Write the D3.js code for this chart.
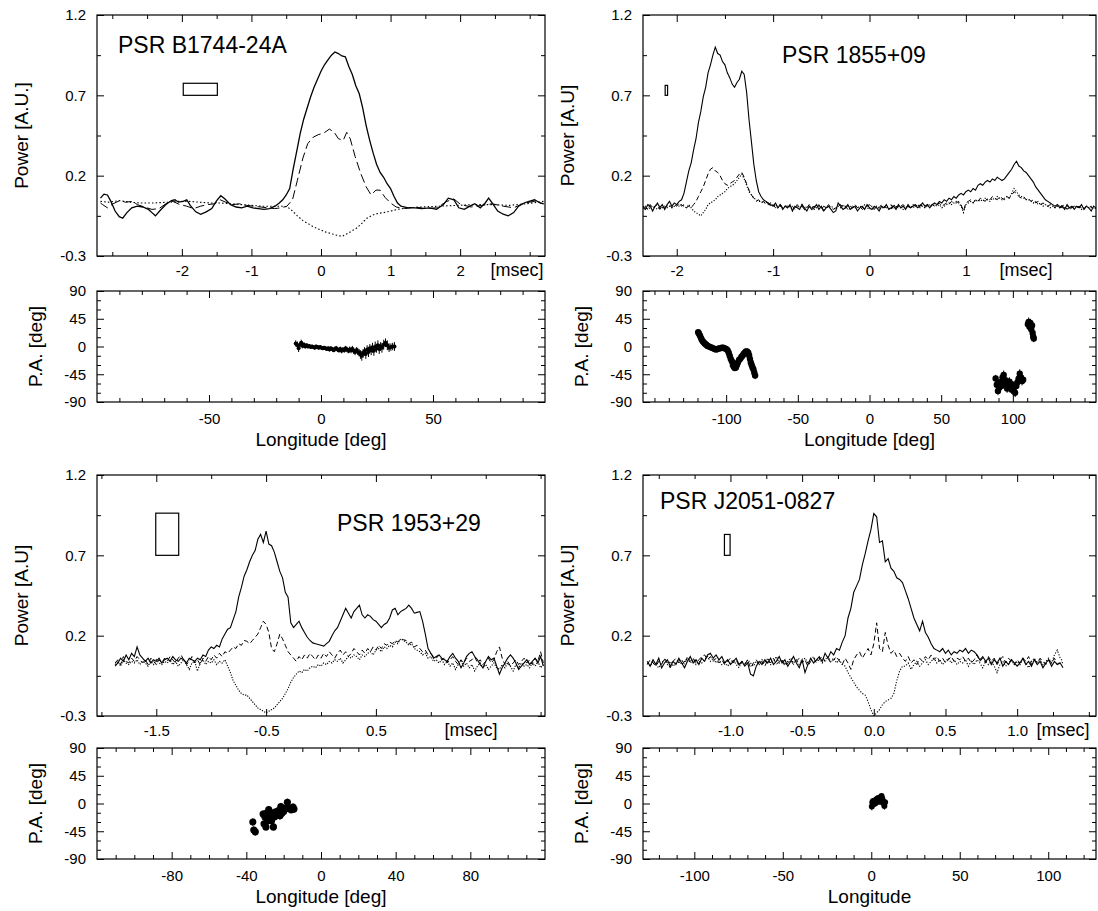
<!DOCTYPE html>
<html>
<head>
<meta charset="utf-8">
<script src="https://cdn.jsdelivr.net/npm/d3@7"></script>
<style>
  body { margin: 0; background: #fff; }
  svg text { font-family: "Liberation Sans", Arial, Helvetica, sans-serif; fill: #000; }
</style>
</head>
<body>
<div id="chart"></div>
<script>
// ---------------- data ----------------
// power axis ticks (shared)
var powerMajor = [-0.3, 0.2, 0.7, 1.2];
var powerMinor = [-0.05, 0.45, 0.95];
var paMajor = [-90, -45, 0, 45, 90];
var paMinor = [-75, -60, -30, -15, 15, 30, 60, 75];

// PSR B1744-24A  [msec, power]
var b1744I = [[-3.17,0.06],[-3.12,0.085],[-3.07,0.08],[-3.02,0.04],[-2.96,-0.02],[-2.90,-0.055],[-2.85,-0.065],[-2.79,-0.03],[-2.72,0.0],[-2.64,0.01],[-2.56,0.005],[-2.48,-0.01],[-2.43,-0.03],[-2.38,-0.05],[-2.31,-0.015],[-2.23,0.02],[-2.15,0.045],[-2.10,0.05],[-2.05,0.035],[-1.98,0.04],[-1.93,0.05],[-1.88,0.015],[-1.80,-0.025],[-1.73,-0.04],[-1.65,-0.025],[-1.57,-0.005],[-1.50,0.045],[-1.44,0.075],[-1.38,0.055],[-1.30,0.02],[-1.22,0.005],[-1.14,0.0],[-1.06,0.01],[-0.98,0.0],[-0.90,-0.005],[-0.82,-0.01],[-0.74,-0.005],[-0.66,0.01],[-0.60,0.03],[-0.55,0.05],[-0.50,0.08],[-0.45,0.12],[-0.40,0.24],[-0.35,0.35],[-0.30,0.46],[-0.25,0.55],[-0.20,0.62],[-0.15,0.69],[-0.10,0.75],[-0.05,0.80],[0.00,0.85],[0.05,0.89],[0.10,0.92],[0.15,0.95],[0.20,0.97],[0.25,0.96],[0.30,0.945],[0.35,0.94],[0.40,0.88],[0.45,0.83],[0.50,0.76],[0.55,0.71],[0.60,0.62],[0.65,0.51],[0.70,0.42],[0.75,0.34],[0.80,0.27],[0.85,0.22],[0.90,0.19],[0.95,0.15],[1.00,0.12],[1.05,0.07],[1.10,0.03],[1.15,0.01],[1.25,0.0],[1.35,0.0],[1.45,-0.005],[1.56,0.0],[1.66,-0.01],[1.76,0.02],[1.83,0.06],[1.91,0.05],[1.98,0.0],[2.06,-0.01],[2.14,0.01],[2.21,0.025],[2.29,0.0],[2.36,0.03],[2.41,0.06],[2.46,0.03],[2.54,-0.02],[2.62,-0.04],[2.69,-0.05],[2.77,-0.03],[2.84,0.01],[2.92,0.03],[2.99,0.04],[3.07,0.05],[3.15,0.03],[3.20,0.025]];
var b1744L = [[-3.17,0.03],[-3.14,0.02],[-3.07,0.0],[-2.99,0.025],[-2.89,0.045],[-2.81,0.035],[-2.71,0.04],[-2.64,0.02],[-2.54,0.005],[-2.43,-0.01],[-2.33,-0.005],[-2.23,0.025],[-2.13,0.04],[-2.03,0.02],[-1.93,0.01],[-1.83,-0.005],[-1.73,0.01],[-1.63,0.02],[-1.53,0.025],[-1.45,0.05],[-1.37,0.035],[-1.27,0.02],[-1.17,0.025],[-1.07,0.015],[-0.97,0.01],[-0.87,0.005],[-0.77,0.0],[-0.67,-0.005],[-0.57,0.0],[-0.49,0.01],[-0.41,0.05],[-0.34,0.17],[-0.26,0.31],[-0.19,0.40],[-0.11,0.44],[-0.04,0.455],[0.04,0.465],[0.12,0.49],[0.19,0.47],[0.25,0.43],[0.32,0.42],[0.37,0.47],[0.42,0.43],[0.49,0.32],[0.57,0.215],[0.65,0.13],[0.72,0.08],[0.79,0.11],[0.85,0.11],[0.92,0.065],[1.00,0.03],[1.08,0.005],[1.20,-0.005],[1.35,0.005],[1.50,-0.005],[1.66,0.0],[1.81,0.04],[1.91,0.055],[2.01,0.02],[2.16,0.005],[2.31,0.015],[2.46,0.025],[2.62,0.01],[2.77,0.0],[2.92,0.03],[3.07,0.04],[3.20,0.025]];
var b1744V = [[-3.17,0.04],[-3.05,0.035],[-2.9,0.045],[-2.75,0.035],[-2.6,0.03],[-2.4,0.03],[-2.2,0.035],[-2.05,0.04],[-1.9,0.04],[-1.75,0.035],[-1.6,0.03],[-1.45,0.03],[-1.3,0.025],[-1.15,0.02],[-1.0,0.015],[-0.85,0.01],[-0.7,0.01],[-0.55,0.01],[-0.48,0.005],[-0.41,-0.02],[-0.34,-0.05],[-0.26,-0.08],[-0.18,-0.10],[-0.1,-0.12],[-0.02,-0.135],[0.06,-0.15],[0.14,-0.16],[0.22,-0.17],[0.3,-0.178],[0.36,-0.165],[0.42,-0.15],[0.5,-0.13],[0.58,-0.10],[0.66,-0.065],[0.74,-0.045],[0.82,-0.035],[0.9,-0.03],[1.0,-0.02],[1.1,-0.01],[1.25,0.0],[1.45,0.005],[1.7,0.01],[1.95,0.015],[2.2,0.02],[2.45,0.02],[2.7,0.015],[2.95,0.025],[3.2,0.04]];
// [longitude, P.A., error]
var b1744PA = [[-11.3,5,5],[-10.5,2,6],[-10.0,-3,6],[-9.4,3,5],[-8.8,6,5],[-8.2,1,4],[-7.6,3,4],[-7.0,0,3],[-6.4,2,3],[-5.8,0,3],[-5.2,1,3],[-4.6,-1,3],[-4.0,0,3],[-3.4,-1,3],[-2.8,-2,3],[-2.2,0,3],[-1.6,-1,3],[-1.0,-2,3],[-0.4,-1,3],[0.2,-2,3],[0.8,-3,3],[1.4,-2,3],[2.0,-3,3],[2.6,-4,3],[3.2,-3,3],[3.8,-5,3],[4.4,-3,3],[5.0,-4,3],[5.6,-6,3],[6.2,-4,4],[6.8,-3,4],[7.4,-5,4],[8.0,-6,4],[8.6,-4,4],[9.2,-7,4],[9.8,-5,4],[10.4,-6,4],[11.0,-3,4],[11.6,-5,4],[12.2,-7,4],[12.8,-5,5],[13.4,-6,5],[14.0,-4,5],[14.6,-7,5],[15.2,-9,5],[15.8,-6,5],[16.4,-8,6],[17.0,-10,6],[17.6,-13,7],[18.2,-15,8],[18.8,-11,7],[19.4,-8,7],[20.0,-12,8],[20.6,-5,7],[21.2,-9,8],[21.8,-3,7],[22.4,-6,8],[23.0,-2,8],[23.6,-7,8],[24.2,0,8],[24.8,-3,7],[25.4,2,8],[26.0,-4,8],[26.6,0,7],[27.2,-2,8],[28.0,3,8],[28.8,6,7],[29.6,2,8],[30.4,-2,7],[31.2,-1,6],[32.0,0,6],[32.8,0,7]];
var b1744Box = [-1.98, -1.49, 0.70, 0.775];

// PSR 1855+09  values on an even msec grid [start, step]
var j1855Grid = [-2.35, 0.025];
var j1855I = [
  0.00,-0.01,0.02,0.01,-0.02,0.01,0.03,0.00,0.02,-0.01,
  0.02,0.04,0.01,0.03,0.02,0.04,0.05,0.09,0.16,0.23,
  0.28,0.36,0.43,0.53,0.60,0.69,0.75,0.84,0.89,0.95,
  1.00,0.96,0.95,0.91,0.89,0.84,0.81,0.77,0.75,0.78,
  0.80,0.85,0.83,0.72,0.55,0.41,0.27,0.17,0.10,0.07,
  0.05,0.04,0.03,0.02,0.01,0.03,0.00,0.02,-0.01,0.01,
  0.00,0.02,-0.02,0.01,0.00,-0.01,0.02,0.00,-0.02,0.01,
  -0.01,0.00,0.02,-0.01,0.01,-0.02,0.00,0.01,-0.01,-0.03,
  -0.02,0.03,0.01,-0.01,0.00,0.02,-0.01,0.00,0.01,-0.02,
  0.00,0.01,-0.01,0.02,0.00,-0.01,0.01,0.00,-0.02,0.01,
  0.00,0.02,-0.01,0.00,0.01,-0.01,0.02,0.00,0.01,-0.01,
  0.02,0.00,0.01,0.02,0.00,0.01,0.03,0.01,0.02,0.00,
  0.02,0.03,0.02,0.04,0.03,0.05,0.04,0.06,0.05,0.07,
  0.06,0.08,0.09,0.08,0.10,0.11,0.10,0.12,0.11,0.14,
  0.15,0.14,0.16,0.17,0.16,0.18,0.17,0.19,0.18,0.17,
  0.18,0.20,0.22,0.24,0.27,0.29,0.26,0.25,0.23,0.22,
  0.20,0.18,0.16,0.13,0.11,0.09,0.07,0.05,0.04,0.03,
  0.02,0.01,0.02,0.00,0.01,-0.01,0.02,0.00,0.01,-0.01,
  0.01,0.00,0.02,-0.01,0.01,0.00,-0.02,0.01,0.00];
var j1855L = [
  0.01,0.00,-0.01,0.02,0.00,0.01,0.02,-0.01,0.01,0.00,
  0.01,0.02,0.00,0.02,0.01,0.03,0.01,0.02,0.00,0.01,
  0.00,0.02,0.04,0.07,0.10,0.13,0.17,0.21,0.24,0.25,
  0.23,0.22,0.20,0.17,0.15,0.14,0.15,0.16,0.17,0.19,
  0.21,0.22,0.19,0.15,0.11,0.08,0.06,0.04,0.05,0.03,
  0.04,0.02,0.03,0.01,0.02,0.00,0.01,0.02,0.00,0.01,
  0.01,0.00,0.01,-0.01,0.02,0.00,0.01,-0.01,0.00,0.02,
  0.00,0.01,0.00,0.02,-0.01,0.01,0.00,0.02,0.00,-0.01,
  0.00,0.01,0.02,0.00,0.01,-0.01,0.01,0.00,0.02,0.00,
  0.01,-0.01,0.00,0.01,0.02,0.00,-0.01,0.01,0.00,0.02,
  0.01,0.00,0.01,0.02,-0.01,0.01,0.00,0.01,0.02,0.00,
  0.01,0.00,0.02,0.01,0.00,0.02,0.01,0.00,0.02,0.01,
  0.02,0.01,0.02,0.03,0.01,0.02,0.03,0.02,0.04,0.03,
  0.03,0.04,0.02,-0.02,0.03,0.04,0.05,0.03,0.05,0.04,
  0.06,0.05,0.04,0.06,0.05,0.07,0.06,0.05,0.07,0.06,
  0.05,0.07,0.06,0.08,0.10,0.09,0.07,0.06,0.07,0.05,
  0.06,0.04,0.05,0.03,0.04,0.02,0.03,0.02,0.01,0.02,
  0.01,0.00,0.02,0.01,0.00,0.01,-0.01,0.01,0.00,0.01,
  0.00,0.01,0.00,-0.01,0.01,0.00,0.01,-0.01,0.00];
var j1855V = [
  0.00,0.01,-0.01,0.00,0.01,0.00,-0.01,0.01,0.00,0.01,
  0.00,0.01,0.00,0.01,0.02,0.01,0.02,0.01,0.00,0.02,
  0.00,-0.02,-0.03,-0.04,-0.05,-0.03,-0.01,0.02,0.03,0.04,
  0.05,0.07,0.08,0.09,0.10,0.12,0.13,0.14,0.15,0.17,
  0.19,0.21,0.18,0.14,0.10,0.08,0.06,0.05,0.04,0.04,
  0.03,0.04,0.02,0.03,0.01,0.02,0.00,0.01,0.00,0.01,
  0.00,0.01,-0.01,0.00,0.01,0.00,0.02,-0.01,0.01,0.00,
  0.01,-0.01,0.00,0.01,0.00,-0.02,0.01,0.00,0.01,0.00,
  -0.01,0.01,0.00,0.02,0.00,0.01,-0.01,0.01,0.00,0.00,
  0.01,0.00,0.02,0.00,-0.01,0.01,0.00,0.01,-0.01,0.00,
  0.00,0.01,0.00,-0.01,0.02,0.00,0.01,0.00,-0.01,0.01,
  0.00,0.01,0.00,0.01,0.02,0.00,0.01,0.00,0.01,0.02,
  0.01,0.02,0.01,0.02,0.00,0.01,0.02,0.03,0.02,0.03,
  0.04,0.03,0.01,-0.03,0.02,0.03,0.04,0.03,0.05,0.04,
  0.05,0.04,0.06,0.05,0.04,0.06,0.05,0.07,0.06,0.05,
  0.06,0.07,0.06,0.09,0.12,0.10,0.08,0.07,0.06,0.05,
  0.05,0.04,0.03,0.04,0.02,0.03,0.01,0.02,0.01,0.00,
  0.01,0.00,0.01,0.00,0.02,0.00,0.01,-0.01,0.00,0.01,
  0.00,0.01,-0.01,0.00,0.01,0.00,0.00,0.01,-0.01];
var j1855PA = [[-119.5,23,3],[-119,21,3],[-118.3,18,3],[-117.6,14,3],[-117,11,3],[-116.2,8,3],[-115.4,6,3],[-114.6,4,3],[-113.8,3,3],[-113,1,3],[-112,0,3],[-111,-1,3],[-110,-2,3],[-109,-3,3],[-108,-4,3],[-107,-5,3],[-106,-4,3],[-105,-3,3],[-104,-3,3],[-103,-2,3],[-102,-2,3],[-101,-3,3],[-100,-4,3],[-99,-6,3],[-98.2,-10,3],[-97.5,-15,4],[-96.8,-20,4],[-96,-24,4],[-95.3,-30,4],[-94.6,-33,4],[-94,-35,4],[-93.2,-34,4],[-92.5,-30,4],[-91.8,-26,4],[-91,-22,4],[-90.2,-20,4],[-89.4,-17,4],[-88.6,-15,4],[-87.8,-12,4],[-87,-10,4],[-86.2,-8,4],[-85.4,-8,4],[-84.6,-10,4],[-84,-14,4],[-83.4,-20,5],[-82.8,-26,5],[-82.2,-30,5],[-81.6,-34,5],[-81,-37,5],[-80.4,-42,5],[-79.8,-47,6],
  [88,-52,6],[88.8,-62,7],[89.6,-72,7],[90.4,-66,6],[91.2,-58,6],[92,-64,7],[92.8,-50,6],[93.6,-46,7],[94.4,-60,6],[95.2,-55,7],[96,-68,7],[96.8,-60,6],[97.6,-57,7],[98.4,-64,6],[99.2,-70,7],[100,-62,6],[100.8,-66,7],[101.6,-75,7],[102.4,-64,6],[103.2,-58,6],[104,-52,6],[104.8,-44,7],[105.6,-50,6],[106.4,-56,7],[107.2,-54,7],
  [110.5,36,6],[111,40,7],[111.6,32,6],[112.2,38,7],[112.8,28,6],[113.4,34,7],[113.8,22,6],[114.2,16,6],[114.6,13,6]];
var j1855Box = [-2.12, -2.095, 0.70, 0.762];

// PSR 1953+29
var b1953Grid = [-1.875, 0.025];
var b1953I = [
  0.01,0.03,0.06,0.04,0.08,0.05,0.09,0.07,0.13,0.08,
  0.06,0.04,0.06,0.03,0.05,0.04,0.06,0.03,0.05,0.06,
  0.04,0.07,0.05,0.04,0.06,0.05,0.03,0.06,0.05,0.04,
  0.06,0.05,0.08,0.07,0.11,0.13,0.12,0.14,0.13,0.18,
  0.21,0.24,0.25,0.30,0.35,0.44,0.50,0.57,0.61,0.66,
  0.70,0.73,0.80,0.83,0.78,0.85,0.77,0.76,0.72,0.66,
  0.60,0.56,0.47,0.44,0.28,0.25,0.27,0.29,0.25,0.22,
  0.19,0.17,0.155,0.15,0.145,0.14,0.135,0.15,0.165,0.20,
  0.23,0.25,0.29,0.33,0.37,0.34,0.31,0.35,0.37,0.39,
  0.33,0.31,0.33,0.32,0.30,0.29,0.27,0.25,0.27,0.28,
  0.31,0.36,0.37,0.33,0.35,0.36,0.37,0.39,0.37,0.34,
  0.345,0.35,0.29,0.21,0.12,0.09,0.06,0.07,0.08,0.06,
  0.05,0.04,0.07,0.09,0.06,0.04,0.00,0.03,0.07,0.09,
  0.10,0.07,0.05,0.02,0.00,0.04,0.07,0.05,0.06,0.01,
  -0.04,0.00,0.03,0.06,0.08,0.06,0.03,-0.01,0.01,0.03,
  0.05,0.02,0.04,0.06,0.03,0.07,0.01];
var b1953L = [
  0.03,0.05,0.02,0.07,0.04,0.03,0.06,0.04,0.07,0.05,
  0.03,0.05,0.02,0.06,0.04,0.02,0.05,0.03,0.06,0.04,
  0.07,0.05,0.03,0.06,0.08,0.05,0.02,0.04,0.07,0.03,
  0.05,0.02,0.06,0.04,0.07,0.05,0.08,0.06,0.09,0.07,
  0.10,0.09,0.11,0.13,0.12,0.15,0.14,0.17,0.165,0.15,
  0.17,0.19,0.21,0.25,0.29,0.27,0.22,0.12,0.10,0.15,
  0.21,0.18,0.14,0.10,0.08,0.06,0.04,0.07,0.05,0.08,
  0.06,0.09,0.07,0.05,0.08,0.06,0.09,0.07,0.10,0.08,
  0.06,0.09,0.11,0.08,0.10,0.07,0.09,0.12,0.10,0.08,
  0.11,0.09,0.12,0.10,0.13,0.11,0.14,0.12,0.15,0.14,
  0.16,0.15,0.17,0.16,0.18,0.175,0.17,0.15,0.16,0.13,
  0.14,0.12,0.10,0.11,0.08,0.09,0.07,0.06,0.08,0.05,
  0.06,0.03,0.05,0.07,0.04,0.02,0.05,0.03,0.06,0.04,
  0.05,0.07,0.03,0.05,0.02,0.04,0.06,0.03,0.05,0.10,
  0.13,0.06,0.02,0.04,0.01,0.03,0.05,0.02,0.04,0.06,
  0.03,0.05,0.02,0.06,0.04,0.10,0.03];
var b1953V = [
  0.02,0.04,0.01,0.05,0.03,0.02,0.04,0.03,0.05,0.02,
  0.04,0.03,0.01,0.04,0.02,0.05,0.03,0.02,0.04,0.03,
  0.05,0.02,0.04,0.01,0.03,0.05,0.02,-0.01,0.03,0.04,
  -0.02,0.03,0.05,0.02,0.04,0.03,0.05,0.02,0.04,0.03,
  0.05,0.01,-0.03,-0.08,-0.11,-0.14,-0.16,-0.17,-0.17,-0.19,
  -0.21,-0.23,-0.25,-0.26,-0.27,-0.28,-0.27,-0.26,-0.25,-0.23,
  -0.21,-0.19,-0.16,-0.13,-0.09,-0.06,-0.04,-0.02,-0.03,-0.01,
  -0.02,0.00,0.01,0.00,0.02,0.01,0.03,0.02,0.04,0.03,
  0.05,0.04,0.06,0.03,0.05,0.07,0.06,0.08,0.07,0.05,
  0.08,0.07,0.09,0.10,0.08,0.11,0.12,0.10,0.13,0.12,
  0.14,0.13,0.16,0.15,0.18,0.17,0.16,0.14,0.15,0.12,
  0.11,0.10,0.08,0.09,0.06,0.07,0.04,0.05,0.03,0.05,
  0.02,0.04,0.01,0.03,-0.01,0.02,0.04,0.01,0.03,0.00,
  0.02,-0.02,0.01,0.03,0.00,0.02,-0.01,0.01,0.03,0.00,
  -0.01,0.02,0.00,0.03,0.01,-0.02,0.02,0.00,0.03,0.01,
  0.02,0.00,0.03,0.01,0.04,0.00,0.02];
var b1953PA = [[-36.5,-30,6],[-36,-43,6],[-35.2,-46,6],[-31,-17,6],[-30.5,-33,6],[-30,-22,6],[-29.5,-38,6],[-29,-15,6],[-28.5,-28,6],[-28,-10,6],[-27.5,-24,6],[-27,-18,6],[-26.5,-28,6],[-26,-16,6],[-25.5,-38,6],[-25,-22,6],[-24.5,-14,6],[-24,-20,6],[-23,-12,6],[-22,-20,6],[-21.5,-5,6],[-21,-16,6],[-20,-13,6],[-19,-8,6],[-18,2,6],[-17,-8,6],[-16,-10,6],[-15,-6,6],[-14.5,-9,6]];
var b1953Box = [-1.505, -1.296, 0.70, 0.9625];

// PSR J2051-0827
var j2051Grid = [-1.58, 0.02];
var j2051I = [
  0.04,0.01,0.05,0.02,0.06,0.00,0.03,0.05,0.01,0.04,
  0.02,0.06,0.03,0.00,0.04,0.07,0.03,0.05,0.02,0.06,
  0.04,0.08,0.09,0.06,0.08,0.05,0.07,0.03,0.05,0.02,
  0.04,0.06,0.02,0.04,0.01,0.03,-0.04,-0.05,0.01,0.04,
  0.02,0.05,0.03,0.06,0.02,0.04,0.07,0.03,0.05,0.01,
  0.04,0.07,0.03,0.00,0.05,-0.03,0.02,0.06,0.03,0.05,
  0.07,0.04,0.09,0.06,0.10,0.08,0.12,0.11,0.16,0.20,
  0.31,0.37,0.47,0.51,0.55,0.64,0.71,0.79,0.86,0.96,
  0.94,0.78,0.79,0.66,0.68,0.62,0.60,0.56,0.55,0.53,
  0.48,0.43,0.37,0.31,0.27,0.23,0.29,0.22,0.19,0.15,
  0.12,0.11,0.10,0.12,0.09,0.11,0.08,0.10,0.09,0.11,
  0.10,0.12,0.09,0.11,0.10,0.08,0.05,0.07,0.04,0.06,
  0.02,0.05,0.03,0.06,0.01,0.04,0.02,0.05,0.03,0.01,
  0.03,0.06,0.02,0.04,0.01,0.05,0.02,0.04,0.00,0.03,
  0.05,0.01,0.04,0.02,0.03,0.00];
var j2051L = [
  0.02,0.05,0.03,0.01,0.04,0.02,0.06,0.03,0.00,0.04,
  0.06,0.03,0.05,0.02,0.07,0.04,0.06,0.03,0.05,0.07,
  0.08,0.05,0.07,0.04,0.06,0.03,0.05,0.02,0.04,0.06,
  0.03,0.05,0.01,0.04,0.02,0.05,0.00,0.03,0.05,0.02,
  0.04,0.01,0.05,0.03,0.06,0.02,0.04,0.05,0.01,0.03,
  0.05,0.02,0.04,0.06,0.03,0.05,0.01,0.04,0.06,0.03,
  0.05,0.07,0.04,0.06,0.03,0.05,0.07,0.04,0.02,0.06,
  0.03,-0.01,0.05,0.08,0.10,0.06,0.09,0.12,0.08,0.15,
  0.28,0.12,0.10,0.22,0.14,0.09,0.11,0.07,0.09,0.06,
  0.04,0.07,0.03,0.05,0.02,0.06,0.04,0.07,0.05,0.08,
  0.05,0.07,0.04,0.06,0.03,0.05,0.07,0.04,0.06,0.05,
  0.07,0.04,0.06,0.03,0.05,0.08,0.04,0.06,0.03,0.07,
  0.04,0.06,0.02,0.05,0.07,0.03,0.06,0.04,0.02,0.05,
  0.03,0.06,0.04,0.07,0.02,0.05,0.03,0.06,0.04,0.02,
  0.05,0.03,0.06,0.02,0.04,0.03];
var j2051V = [
  0.03,0.01,0.04,0.02,0.00,0.03,0.05,0.02,0.04,0.01,
  0.03,0.05,0.02,0.04,0.06,0.03,0.05,0.02,0.04,0.03,
  0.05,0.07,0.04,0.06,0.03,0.05,0.02,0.04,0.01,0.03,
  0.05,0.02,0.00,0.04,0.02,0.05,0.03,0.01,0.04,0.02,
  0.05,0.03,0.06,0.02,0.04,0.07,0.03,0.05,0.02,0.04,
  0.06,0.03,0.05,0.02,0.04,0.06,0.03,0.05,0.07,0.04,
  0.06,0.03,0.05,0.07,0.04,0.06,0.03,0.05,0.02,0.01,
  -0.03,-0.06,-0.09,-0.12,-0.14,-0.16,-0.17,-0.21,-0.26,-0.30,
  -0.28,-0.26,-0.23,-0.21,-0.20,-0.19,-0.16,-0.08,-0.02,0.01,
  0.01,0.03,-0.01,0.02,0.04,0.01,0.03,0.05,0.02,0.04,
  0.06,0.03,0.05,0.02,0.04,0.06,0.03,0.05,0.02,0.04,
  0.03,0.05,0.01,0.04,0.02,0.05,0.03,0.00,0.04,0.02,
  0.04,0.01,-0.03,0.02,0.04,0.01,0.03,0.05,0.02,0.04,
  0.02,0.05,0.03,0.00,0.04,0.06,0.03,0.05,0.02,0.04,
  0.06,0.03,0.08,0.11,0.06,0.04];
var j2051PA = [[0.3,-5,6],[0.6,2,5],[1.0,4,5],[1.4,-1,5],[1.8,3,5],[2.2,0,5],[2.6,6,5],[3.0,2,5],[3.4,8,5],[3.8,4,5],[4.2,9,5],[4.6,6,5],[5.0,3,5],[5.4,10,5],[5.8,12,5],[6.2,8,5],[6.6,4,5],[7.0,0,6],[7.4,-4,6],[7.8,2,5]];
var j2051Box = [-1.042, -1.0025, 0.70, 0.83];

// ---------------- layout ----------------
var width = 1098, height = 911;
var cols = [[97, 545], [643, 1096]];
// power top, power bottom, P.A. top, P.A. bottom
var rows = [[15, 256, 291, 402], [475, 716, 748, 859]];

function onGrid(grid, vals) {
  return vals.map(function(v, i) { return [grid[0] + i * grid[1], v]; });
}
function without(all, some) {
  return all.filter(function(d) { return some.indexOf(d) < 0; });
}

var panels = [
  {title: "PSR B1744-24A", titleAt: [118, 53], col: 0, row: 0,
   msec: [-3.22, 3.22], lon: [-100, 100],
   msecMajor: [-2, -1, 0, 1, 2], msecMinor: [-3, -2.5, -1.5, -0.5, 0.5, 1.5, 2.5, 3], msecFmt: String, unitX: 517,
   lonMajor: [-50, 0, 50], lonMinor: without(d3.range(-90, 91, 10), [-50, 0, 50]),
   yTitle: "Power [A.U.]", xTitle: "Longitude [deg]",
   I: b1744I, L: b1744L, V: b1744V, pa: b1744PA, box: b1744Box,
   r: 2, lw: 1.3, dash: "9,4", dot: "1.5,2.2"},
  {title: "PSR 1855+09", titleAt: [782, 63], col: 1, row: 0,
   msec: [-2.35, 2.35], lon: [-158, 158],
   msecMajor: [-2, -1, 0, 1], msecMinor: [-1.5, -0.5, 0.5, 1.5, 2], msecFmt: String, unitX: 1026,
   lonMajor: [-100, -50, 0, 50, 100], lonMinor: without(d3.range(-150, 151, 10), [-100, -50, 0, 50, 100]),
   yTitle: "Power [A.U]", xTitle: "Longitude [deg]",
   I: onGrid(j1855Grid, j1855I), L: onGrid(j1855Grid, j1855L), V: onGrid(j1855Grid, j1855V), pa: j1855PA, box: j1855Box,
   r: 3.2, lw: 1.1, dash: "5,3", dot: "1.2,1.6"},
  {title: "PSR 1953+29", titleAt: [337, 531], col: 0, row: 1,
   msec: [-2.04, 2.04], lon: [-120, 120],
   msecMajor: [-1.5, -0.5, 0.5], msecMinor: [-2, -1, 0, 1, 1.5, 2], msecFmt: String, unitX: 471,
   lonMajor: [-80, -40, 0, 40, 80], lonMinor: without(d3.range(-110, 111, 10), [-80, -40, 0, 40, 80]),
   yTitle: "Power [A.U]", xTitle: "Longitude [deg]",
   I: onGrid(b1953Grid, b1953I), L: onGrid(b1953Grid, b1953L), V: onGrid(b1953Grid, b1953V), pa: b1953PA, box: b1953Box,
   r: 3.6, lw: 1.1, dash: "5,3", dot: "1.2,1.4"},
  {title: "PSR J2051-0827", titleAt: [660, 509], col: 1, row: 1,
   msec: [-1.61, 1.55], lon: [-129, 127],
   msecMajor: [-1, -0.5, 0, 0.5, 1], msecMinor: [-1.5, -1.25, -0.75, -0.25, 0.25, 0.75, 1.25, 1.5], msecFmt: function(d) { return d.toFixed(1); }, unitX: 1063,
   lonMajor: [-100, -50, 0, 50, 100], lonMinor: without(d3.range(-120, 121, 10), [-100, -50, 0, 50, 100]),
   yTitle: "Power [A.U]", xTitle: "Longitude",
   I: onGrid(j2051Grid, j2051I), L: onGrid(j2051Grid, j2051L), V: onGrid(j2051Grid, j2051V), pa: j2051PA, box: j2051Box,
   r: 3, lw: 1.1, dash: "5,3", dot: "1.2,1.6"}
];

var svg = d3.select("#chart")
  .append("svg")
    .attr("width", width)
    .attr("height", height);
svg.append("rect").attr("width", width).attr("height", height).attr("fill", "#fff");

// framed box with inward ticks on all four sides
function frame(g, x, y, xMaj, xMin, yMaj, yMin, xFmt, yFmt, xPad) {
  var xr = x.range(), yr = y.range();
  var top = yr[1], bottom = yr[0], left = xr[0], right = xr[1];
  var parts = [
    [d3.axisBottom(x).tickValues(xMaj).tickSize(-7).tickPadding(xPad).tickFormat(xFmt), 0, bottom],
    [d3.axisBottom(x).tickValues(xMin).tickSize(-4).tickFormat(""), 0, bottom],
    [d3.axisTop(x).tickValues(xMaj).tickSize(-7).tickFormat(""), 0, top],
    [d3.axisTop(x).tickValues(xMin).tickSize(-4).tickFormat(""), 0, top],
    [d3.axisLeft(y).tickValues(yMaj).tickSize(-7).tickPadding(11).tickFormat(yFmt), left, 0],
    [d3.axisLeft(y).tickValues(yMin).tickSize(-4).tickFormat(""), left, 0],
    [d3.axisRight(y).tickValues(yMaj).tickSize(-7).tickFormat(""), right, 0],
    [d3.axisRight(y).tickValues(yMin).tickSize(-4).tickFormat(""), right, 0]
  ];
  parts.forEach(function(p) {
    var a = g.append("g")
      .attr("transform", "translate(" + p[1] + "," + p[2] + ")")
      .call(p[0]);
    a.select(".domain").remove();
    a.selectAll(".tick line").attr("stroke", "#000").attr("stroke-width", 1);
    a.selectAll("text").attr("font-size", 15).attr("font-family", null).attr("fill", "#000");
  });
  g.append("rect")
    .attr("x", left).attr("y", top)
    .attr("width", right - left).attr("height", bottom - top)
    .attr("fill", "none").attr("stroke", "#000").attr("stroke-width", 1.2);
}

function yTitle(g, text, cx, cy) {
  g.append("text")
    .attr("transform", "translate(" + (cx + 6.5) + "," + cy + ") rotate(-90)")
    .attr("text-anchor", "middle")
    .attr("font-size", 19)
    .text(text);
}

panels.forEach(function(p, k) {
  var c = cols[p.col], r = rows[p.row];
  var g = svg.append("g");

  var x = d3.scaleLinear().domain(p.msec).range(c);
  var lon = d3.scaleLinear().domain(p.lon).range(c);
  var y = d3.scaleLinear().domain([-0.3, 1.2]).range([r[1], r[0]]);
  var ya = d3.scaleLinear().domain([-90, 90]).range([r[3], r[2]]);

  svg.append("clipPath").attr("id", "cp" + k)
    .append("rect").attr("x", c[0]).attr("y", r[0]).attr("width", c[1] - c[0]).attr("height", r[1] - r[0]);
  svg.append("clipPath").attr("id", "ca" + k)
    .append("rect").attr("x", c[0]).attr("y", r[2]).attr("width", c[1] - c[0]).attr("height", r[3] - r[2]);

  // power profiles
  var line = d3.line()
    .x(function(d) { return x(d[0]); })
    .y(function(d) { return y(d[1]); });
  var pg = g.append("g").attr("clip-path", "url(#cp" + k + ")");
  pg.append("path").datum(p.V)
    .attr("fill", "none").attr("stroke", "#000").attr("stroke-width", 1.1)
    .attr("stroke-dasharray", p.dot).attr("d", line);
  pg.append("path").datum(p.L)
    .attr("fill", "none").attr("stroke", "#000").attr("stroke-width", 1)
    .attr("stroke-dasharray", p.dash).attr("d", line);
  pg.append("path").datum(p.I)
    .attr("fill", "none").attr("stroke", "#000").attr("stroke-width", p.lw).attr("d", line);

  pg.append("rect")
    .attr("x", x(p.box[0])).attr("y", y(p.box[3]))
    .attr("width", x(p.box[1]) - x(p.box[0])).attr("height", y(p.box[2]) - y(p.box[3]))
    .attr("fill", "none").attr("stroke", "#000").attr("stroke-width", 1.2);

  frame(g, x, y, p.msecMajor, p.msecMinor, powerMajor, powerMinor, p.msecFmt, String, 9.3);

  g.append("text")
    .attr("x", p.unitX).attr("y", r[1] + 20)
    .attr("text-anchor", "middle").attr("font-size", 18)
    .text("[msec]");
  g.append("text")
    .attr("x", p.titleAt[0]).attr("y", p.titleAt[1])
    .attr("font-size", 23)
    .text(p.title);
  yTitle(g, p.yTitle, c[0] - 76, (r[0] + r[1]) / 2);

  // position angle
  var ag = g.append("g").attr("clip-path", "url(#ca" + k + ")");
  ag.selectAll("line.err").data(p.pa).enter()
    .append("line")
      .attr("class", "err")
      .attr("x1", function(d) { return lon(d[0]); })
      .attr("x2", function(d) { return lon(d[0]); })
      .attr("y1", function(d) { return ya(d[1] - d[2]); })
      .attr("y2", function(d) { return ya(d[1] + d[2]); })
      .attr("stroke", "#000").attr("stroke-width", 1);
  ag.selectAll("circle").data(p.pa).enter()
    .append("circle")
      .attr("cx", function(d) { return lon(d[0]); })
      .attr("cy", function(d) { return ya(d[1]); })
      .attr("r", p.r)
      .attr("fill", "#000");

  frame(g, lon, ya, p.lonMajor, p.lonMinor, paMajor, paMinor, String, String, 11.3);

  g.append("text")
    .attr("x", (c[0] + c[1]) / 2).attr("y", r[3] + 43.5)
    .attr("text-anchor", "middle").attr("font-size", 19)
    .text(p.xTitle);
  yTitle(g, "P.A. [deg]", c[0] - 62, (r[2] + r[3]) / 2);
});
</script>
</body>
</html>
